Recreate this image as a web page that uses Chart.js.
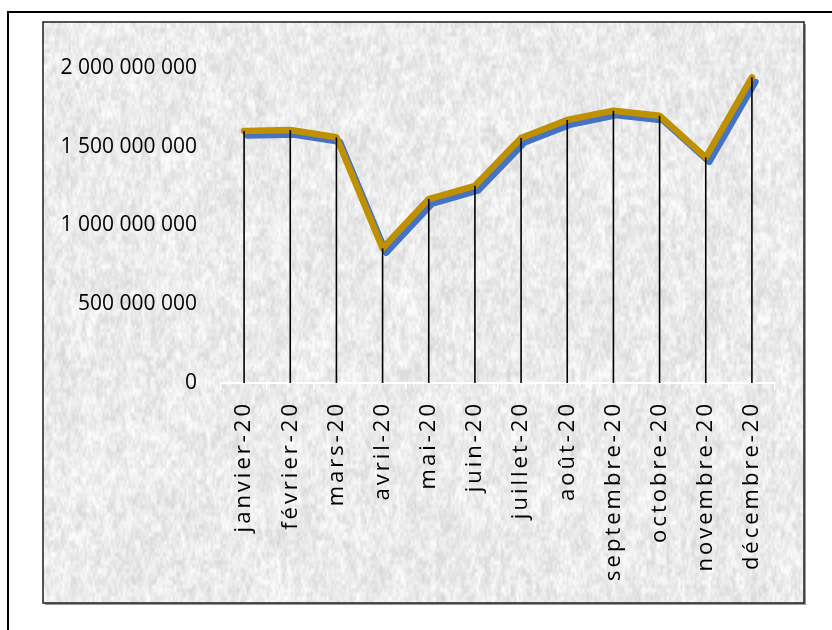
<!DOCTYPE html>
<html>
<head>
<meta charset="utf-8">
<script src="https://cdn.jsdelivr.net/npm/chart.js@4.4.1/dist/chart.umd.min.js"></script>
<style>
  html, body { margin: 0; padding: 0; background: #ffffff; }
  #wrap { position: relative; width: 832px; height: 630px; }
  canvas { display: block; }
</style>
</head>
<body>
<div id="wrap"><canvas id="c" width="832" height="630"></canvas></div>
<script>
// ---- Data ----
const months = ['janvier-20','février-20','mars-20','avril-20','mai-20','juin-20',
                'juillet-20','août-20','septembre-20','octobre-20','novembre-20','décembre-20'];
const values = [1600000000, 1606000000, 1560000000, 855000000, 1168000000, 1252000000,
                1555000000, 1670000000, 1729000000, 1697000000, 1433000000, 1941000000];
const yTicks = [0, 500000000, 1000000000, 1500000000, 2000000000];

// ---- Helpers ----
function fmt(v) {
  return String(v).replace(/\B(?=(\d{3})+(?!\d))/g, ' ');
}

// deterministic granite-like texture (decoration only)
function hash(x, y, s) {
  let n = Math.imul(x, 374761393) + Math.imul(y, 668265263) + Math.imul(s, 982451653);
  n = Math.imul(n ^ (n >>> 13), 1274126177);
  n = n ^ (n >>> 16);
  return ((n >>> 0) % 10000) / 10000;
}
function vnoise(x, y, cw, ch, s) {
  const gx = x / cw, gy = y / ch;
  const x0 = Math.floor(gx), y0 = Math.floor(gy);
  const fx = gx - x0, fy = gy - y0;
  const sx = fx * fx * (3 - 2 * fx), sy = fy * fy * (3 - 2 * fy);
  const a = hash(x0, y0, s), b = hash(x0 + 1, y0, s), c = hash(x0, y0 + 1, s), d = hash(x0 + 1, y0 + 1, s);
  const top = a + (b - a) * sx, bot = c + (d - c) * sx;
  return top + (bot - top) * sy;
}
function makeTexture(w, h) {
  const c = document.createElement('canvas');
  c.width = w; c.height = h;
  const g = c.getContext('2d');
  const img = g.createImageData(w, h);
  for (let y = 0; y < h; y++) {
    for (let x = 0; x < w; x++) {
      const n1 = vnoise(x, y, 2, 4, 1);
      const n2 = vnoise(x, y, 5, 9, 2);
      const n3 = vnoise(x, y, 24, 30, 3);
      let v = 235 + (n1 - 0.5) * 22 + (n2 - 0.5) * 20 + (n3 - 0.5) * 8;
      v = Math.max(198, Math.min(251, v));
      const i = (y * w + x) * 4;
      img.data[i] = v; img.data[i + 1] = v; img.data[i + 2] = v; img.data[i + 3] = 255;
    }
  }
  g.putImageData(img, 0, 0);
  return c;
}

const PLOT = { x: 43, y: 22, w: 761, h: 581 };
const texture = makeTexture(PLOT.w, PLOT.h);

const framePlugin = {
  id: 'frames',
  beforeDraw(chart) {
    const ctx = chart.ctx;
    ctx.save();
    ctx.strokeStyle = '#000000';
    ctx.lineWidth = 2;
    ctx.beginPath();
    ctx.moveTo(8, 640);
    ctx.lineTo(8, 12);
    ctx.lineTo(840, 12);
    ctx.stroke();
    ctx.fillStyle = '#9a9a9a';
    ctx.fillRect(PLOT.x + 2, PLOT.y + 2, PLOT.w, PLOT.h);
    ctx.drawImage(texture, PLOT.x, PLOT.y);
    ctx.strokeStyle = '#2b2b2b';
    ctx.lineWidth = 1.6;
    ctx.strokeRect(PLOT.x, PLOT.y, PLOT.w, PLOT.h);
    ctx.restore();
  },
  afterLayout(chart) {
    const xs = chart.scales.x;
    if (xs && !xs._lsPatched) {
      const orig = xs.drawLabels;
      xs.drawLabels = function (area) {
        const c = this.ctx;
        c.save();
        c.letterSpacing = '3px';
        orig.call(this, area);
        c.restore();
      };
      xs._lsPatched = true;
    }
  },
  beforeDatasetDraw(chart) {
    const ctx = chart.ctx;
    ctx.save();
    ctx.shadowColor = '#4472C4';
    ctx.shadowOffsetX = 3.5;
    ctx.shadowOffsetY = 4.5;
    ctx.shadowBlur = 0;
  },
  afterDatasetDraw(chart) {
    chart.ctx.restore();
  },
  afterDatasetsDraw(chart) {
    const ctx = chart.ctx;
    const meta = chart.getDatasetMeta(0);
    const bottom = chart.scales.y.getPixelForValue(0);
    ctx.save();
    ctx.strokeStyle = '#000000';
    ctx.lineWidth = 1.6;
    meta.data.forEach(p => {
      ctx.beginPath();
      ctx.moveTo(p.x, p.y);
      ctx.lineTo(p.x, bottom);
      ctx.stroke();
    });
    ctx.restore();
  }
};

new Chart(document.getElementById('c'), {
  type: 'line',
  data: {
    labels: months,
    datasets: [{
      data: values,
      borderColor: '#BF9000',
      borderWidth: 6.5,
      pointRadius: 0,
      pointHoverRadius: 0,
      tension: 0,
      borderCapStyle: 'round',
      borderJoinStyle: 'round',
      fill: false
    }]
  },
  options: {
    responsive: false,
    animation: false,
    devicePixelRatio: 1,
    events: [],
    layout: { padding: { left: 0, top: 68, right: 57, bottom: 0 } },
    plugins: { legend: { display: false }, tooltip: { enabled: false }, title: { display: false } },
    scales: {
      x: {
        type: 'category',
        offset: true,
        grid: {
          display: true,
          drawOnChartArea: false,
          drawTicks: true,
          tickLength: 7,
          color: '#ffffff',
          lineWidth: 1.5,
          offset: true
        },
        border: { display: true, color: '#ffffff', width: 2 },
        ticks: {
          autoSkip: false,
          minRotation: 90,
          maxRotation: 90,
          padding: 11,
          color: '#000000',
          font: { family: '"Open Sans", "Liberation Sans", sans-serif', size: 22 }
        },
        afterFit(s) { s.height = 247; }
      },
      y: {
        min: 0,
        max: 2000000000,
        afterBuildTicks(s) { s.ticks = yTicks.map(v => ({ value: v })); },
        grid: { display: false, drawTicks: false },
        border: { display: false },
        ticks: {
          padding: 24,
          color: '#000000',
          font: { family: '"Open Sans", "Liberation Sans", sans-serif', size: 21 },
          callback: v => fmt(v)
        },
        afterFit(s) { s.width = 221; }
      }
    }
  },
  plugins: [framePlugin]
});
</script>
</body>
</html>
